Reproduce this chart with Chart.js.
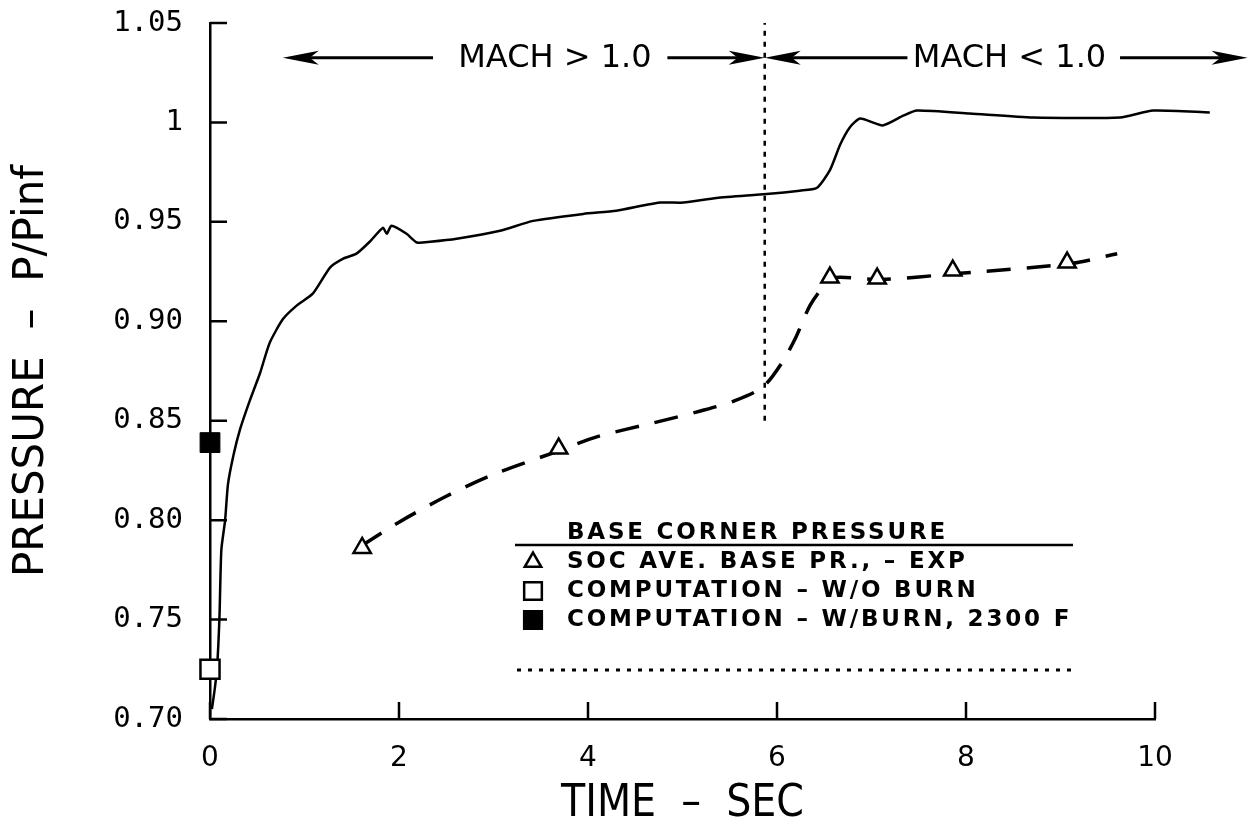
<!DOCTYPE html>
<html>
<head>
<meta charset="utf-8">
<title>Base corner pressure</title>
<script src="https://cdn.jsdelivr.net/npm/chart.js@4.4.1/dist/chart.umd.min.js"></script>
<style>
    html, body { margin:0; padding:0; background:#fff; }
    #canvas__pressure { display:block; }
</style>
</head>
<body>
<canvas id="canvas__pressure" width="1251" height="829"></canvas>
<script>
"use strict"

// measured base pressure history, time in sec against P/Pinf
var arrMeasTime  = [0.02, 0.05, 0.075, 0.10, 0.12, 0.16, 0.19, 0.25, 0.32, 0.42, 0.53, 0.63, 0.77, 0.92, 1.09, 1.27, 1.41, 1.55, 1.69, 1.83, 1.87, 1.92, 2.08, 2.19, 2.33, 2.61, 3.07, 3.42, 3.95, 4.30, 4.76, 5.01, 5.36, 5.89, 6.24, 6.42, 6.56, 6.67, 6.77, 6.88, 7.12, 7.34, 7.48, 8.04, 8.71, 9.63, 9.98, 10.58];
var arrMeasPress = [0.705, 0.715, 0.726, 0.751, 0.785, 0.800, 0.818, 0.833, 0.846, 0.860, 0.874, 0.889, 0.901, 0.908, 0.914, 0.927, 0.9315, 0.934, 0.940, 0.947, 0.944, 0.948, 0.944, 0.9396, 0.940, 0.9415, 0.9455, 0.9505, 0.954, 0.9556, 0.9597, 0.9597, 0.962, 0.964, 0.9657, 0.967, 0.976, 0.989, 0.9975, 1.002, 0.9985, 1.0035, 1.006, 1.0045, 1.0025, 1.0025, 1.006, 1.005];

// SOC averaged base pressure (experiment)
var arrSocTime  = [1.61, 3.69, 6.56, 7.06, 7.86, 9.07];
var arrSocPress = [0.786, 0.836, 0.922, 0.9215, 0.9255, 0.9295];

// faired curve through the SOC points
var arrFairTime  = [1.6, 2.0, 2.5, 3.0, 3.7, 4.1, 4.7, 5.2, 5.55, 5.85, 6.05, 6.2, 6.35, 6.5, 6.6, 7.1, 7.9, 9.1, 9.6];
var arrFairPress = [0.787, 0.799, 0.812, 0.823, 0.835, 0.842, 0.849, 0.855, 0.860, 0.867, 0.879, 0.892, 0.908, 0.918, 0.922, 0.921, 0.924, 0.929, 0.934];

// computations, both at t = 0
var arrNoBurnTime  = [0];
var arrNoBurnPress = [0.725];
var arrBurnTime  = [0];
var arrBurnPress = [0.839];

// time where the flow turns subsonic
var arrMachTime  = [5.87, 5.87];
var arrMachPress = [0.85, 1.05];

// mach arrows: [tail, head] in sec, all at one pressure level
var dblArrowPress = 1.0325;
var arrArrowSegments = [[2.36, 0.77], [4.84, 5.87], [7.38, 5.87], [9.63, 10.98]];
var arrMachText = ["MACH > 1.0", "MACH < 1.0"];
var arrMachTextTime = [3.65, 8.46];

// axis ticks
var arrXTicks = [0, 2, 4, 6, 8, 10];
var arrYTicks = [0.70, 0.75, 0.80, 0.85, 0.90, 0.95, 1.00, 1.05];
var arrYTickLabels = ["0.70", "0.75", "0.80", "0.85", "0.90", "0.95", "1", "1.05"];

// legend text
var strLegendTitle = "BASE CORNER PRESSURE";
var arrLegendLabels = ["SOC AVE. BASE PR., – EXP", "COMPUTATION – W/O BURN", "COMPUTATION – W/BURN, 2300 F"];

var COLOR_BLACK = "#000";
var COLOR_WHITE = "#fff";

function toPoints(arrX, arrY){
    return arrX.map(function(x, i){ return {x: x, y: arrY[i]}; });
}

// white page under everything
var backgroundPlugin = {
    id: "background",
    beforeDraw: function(chart){
        var ctx = chart.ctx;
        ctx.save();
        ctx.fillStyle = COLOR_WHITE;
        ctx.fillRect(0, 0, chart.width, chart.height);
        ctx.restore();
    }
};

// tick marks point into the plot, not out of it
var inwardTicksPlugin = {
    id: "inwardTicks",
    afterDraw: function(chart){
        var ctx = chart.ctx;
        var sx = chart.scales.x;
        var sy = chart.scales.y;
        var len = 17;
        ctx.save();
        ctx.strokeStyle = COLOR_BLACK;
        ctx.lineWidth = 2.5;
        ctx.beginPath();
        arrXTicks.forEach(function(v){
            var px = sx.getPixelForValue(v);
            ctx.moveTo(px, sy.bottom);
            ctx.lineTo(px, sy.bottom - len);
        });
        arrYTicks.forEach(function(v){
            var py = sy.getPixelForValue(v);
            ctx.moveTo(sx.left, py);
            ctx.lineTo(sx.left + len, py);
        });
        ctx.stroke();
        ctx.restore();
    }
};

// barbed arrow head, tip at (x, y), dir = +1 points right, -1 points left
function drawArrowHead(ctx, x, y, dir){
    var len = 36, half = 7, notch = 9;
    ctx.beginPath();
    ctx.moveTo(x, y);
    ctx.lineTo(x - dir * len, y - half);
    ctx.lineTo(x - dir * (len - notch), y);
    ctx.lineTo(x - dir * len, y + half);
    ctx.closePath();
    ctx.fill();
}

// mach regime arrows along the top
var machArrowsPlugin = {
    id: "machArrows",
    afterDraw: function(chart){
        var ctx = chart.ctx;
        var sx = chart.scales.x;
        var sy = chart.scales.y;
        var py = sy.getPixelForValue(dblArrowPress);
        ctx.save();
        ctx.strokeStyle = COLOR_BLACK;
        ctx.fillStyle = COLOR_BLACK;
        ctx.lineWidth = 3;
        arrArrowSegments.forEach(function(seg){
            var x0 = sx.getPixelForValue(seg[0]);
            var x1 = sx.getPixelForValue(seg[1]);
            var dir = x1 > x0 ? 1 : -1;
            ctx.beginPath();
            ctx.moveTo(x0, py);
            ctx.lineTo(x1 - dir * 20, py);
            ctx.stroke();
            drawArrowHead(ctx, x1, py, dir);
        });
        ctx.font = "32px 'DejaVu Sans'";
        ctx.textAlign = "center";
        ctx.textBaseline = "middle";
        arrMachText.forEach(function(str, i){
            ctx.fillText(str, sx.getPixelForValue(arrMachTextTime[i]), py + 1);
        });
        ctx.restore();
    }
};

// legend block: underlined title, three symbol rows, dotted rule below
var legendBoxPlugin = {
    id: "legendBox",
    afterDraw: function(chart){
        var ctx = chart.ctx;
        var left = 515, right = 1073, textX = 567, symX = 533;
        var rowY = [562, 591, 620];
        var arrStyles = [
            {pointStyle: "triangle", radius: 9.5, fill: COLOR_WHITE},
            {pointStyle: "rect", radius: 12.5, fill: COLOR_WHITE},
            {pointStyle: "rect", radius: 12.5, fill: COLOR_BLACK}
        ];
        ctx.save();
        ctx.fillStyle = COLOR_BLACK;
        ctx.strokeStyle = COLOR_BLACK;
        ctx.font = "bold 23px 'DejaVu Sans'";
        ctx.letterSpacing = "2.8px";
        ctx.textAlign = "left";
        ctx.textBaseline = "middle";
        ctx.fillText(strLegendTitle, textX, 533);

        ctx.lineWidth = 2.5;
        ctx.beginPath();
        ctx.moveTo(left, 545);
        ctx.lineTo(right, 545);
        ctx.stroke();

        arrLegendLabels.forEach(function(str, i){
            var st = arrStyles[i];
            ctx.fillStyle = st.fill;
            ctx.strokeStyle = COLOR_BLACK;
            ctx.lineWidth = 2.5;
            Chart.helpers.drawPoint(ctx, {pointStyle: st.pointStyle, radius: st.radius, rotation: 0, borderWidth: 2.5}, symX, rowY[i]);
            ctx.fillStyle = COLOR_BLACK;
            ctx.fillText(str, textX, rowY[i]);
        });

        ctx.lineWidth = 3;
        ctx.setLineDash([4, 7]);
        ctx.beginPath();
        ctx.moveTo(left + 2, 670);
        ctx.lineTo(right, 670);
        ctx.stroke();
        ctx.restore();
    }
};

var chart = new Chart("canvas__pressure", {
    type: "scatter",
    data: {
        datasets: [
            {
                label: "measured",
                data: toPoints(arrMeasTime, arrMeasPress),
                showLine: true,
                borderColor: COLOR_BLACK,
                borderWidth: 2.5,
                pointRadius: 0,
                tension: 0.2,
                clip: false,
                order: 3
            },
            {
                label: "faired",
                data: toPoints(arrFairTime, arrFairPress),
                showLine: true,
                borderColor: COLOR_BLACK,
                borderWidth: 3.5,
                borderDash: [24, 16],
                pointRadius: 0,
                tension: 0.3,
                clip: false,
                order: 2
            },
            {
                label: "mach 1",
                data: toPoints(arrMachTime, arrMachPress),
                showLine: true,
                borderColor: COLOR_BLACK,
                borderWidth: 2.5,
                borderDash: [5, 6],
                pointRadius: 0,
                clip: false,
                order: 2
            },
            {
                label: arrLegendLabels[0],
                data: toPoints(arrSocTime, arrSocPress),
                pointStyle: "triangle",
                pointRadius: 10,
                pointBorderWidth: 2.5,
                pointBorderColor: COLOR_BLACK,
                pointBackgroundColor: COLOR_WHITE,
                clip: false,
                order: 0
            },
            {
                label: arrLegendLabels[1],
                data: toPoints(arrNoBurnTime, arrNoBurnPress),
                pointStyle: "rect",
                pointRadius: 13.5,
                pointBorderWidth: 2.5,
                pointBorderColor: COLOR_BLACK,
                pointBackgroundColor: COLOR_WHITE,
                clip: false,
                order: 0
            },
            {
                label: arrLegendLabels[2],
                data: toPoints(arrBurnTime, arrBurnPress),
                pointStyle: "rect",
                pointRadius: 14,
                pointBorderWidth: 1,
                pointBorderColor: COLOR_BLACK,
                pointBackgroundColor: COLOR_BLACK,
                clip: false,
                order: 0
            }
        ]
    },
    plugins: [backgroundPlugin, inwardTicksPlugin, machArrowsPlugin, legendBoxPlugin],
    options: {
        responsive: false,
        animation: false,
        devicePixelRatio: 1,
        events: [],
        layout: {
            padding: {top: 23, right: 96, bottom: 0, left: 0}
        },
        plugins: {
            legend: {display: false},
            tooltip: {enabled: false}
        },
        scales: {
            x: {
                type: "linear",
                position: "bottom",
                min: 0,
                max: 10,
                // outward tick marks are invisible; their length only spaces the labels
                grid: {display: false, drawTicks: true, tickLength: 23, tickColor: "rgba(0,0,0,0)"},
                border: {display: true, color: COLOR_BLACK, width: 2.5},
                afterBuildTicks: function(scale){
                    scale.ticks = arrXTicks.map(function(v){ return {value: v}; });
                },
                afterFit: function(scale){
                    scale.height = 110;
                },
                ticks: {
                    color: COLOR_BLACK,
                    font: {family: "'DejaVu Sans'", size: 28},
                    padding: 0,
                    autoSkip: false,
                    maxRotation: 0,
                    callback: function(v){ return String(v); }
                },
                title: {
                    display: true,
                    text: "TIME  –  SEC",
                    color: COLOR_BLACK,
                    font: {family: "'DejaVu Sans Condensed', 'Liberation Sans Narrow', 'DejaVu Sans'", size: 44, lineHeight: 1},
                    padding: {top: 0, bottom: 2}
                }
            },
            y: {
                type: "linear",
                min: 0.70,
                max: 1.05,
                grid: {display: false, drawTicks: true, tickLength: 27, tickColor: "rgba(0,0,0,0)"},
                border: {display: true, color: COLOR_BLACK, width: 2.5},
                afterBuildTicks: function(scale){
                    scale.ticks = arrYTicks.map(function(v){ return {value: v}; });
                },
                afterFit: function(scale){
                    scale.width = 210;
                },
                ticks: {
                    color: COLOR_BLACK,
                    font: {family: "'DejaVu Sans Mono'", size: 29},
                    padding: 0,
                    autoSkip: false,
                    callback: function(v, i){ return arrYTickLabels[i]; }
                },
                title: {
                    display: true,
                    text: "PRESSURE  –  P/Pinf",
                    color: COLOR_BLACK,
                    font: {family: "'DejaVu Sans'", size: 42, lineHeight: 1.2},
                    padding: {top: 7, bottom: 0}
                }
            }
        }
    }
});
</script>
</body>
</html>
